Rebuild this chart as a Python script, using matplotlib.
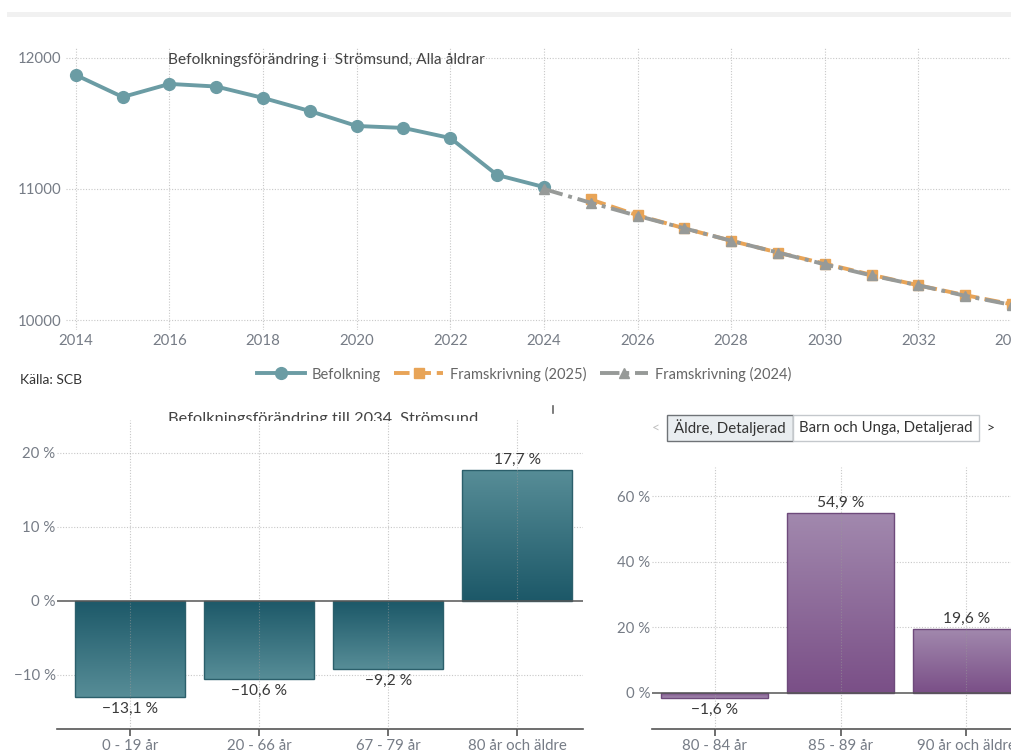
import matplotlib
matplotlib.use('Agg')
import matplotlib.pyplot as plt
import numpy as np
from matplotlib.colors import LinearSegmentedColormap
from matplotlib.lines import Line2D
from matplotlib.patches import Rectangle
from matplotlib.transforms import Bbox, TransformedBbox

plt.rcParams['font.family'] = ['Lato', 'DejaVu Sans']

# ---------------- data ----------------
years_hist = [2014, 2015, 2016, 2017, 2018, 2019, 2020, 2021, 2022, 2023, 2024]
pop_hist = [11870, 11702, 11802, 11782, 11695, 11595, 11481, 11466, 11389, 11107, 11015]

years_p25 = [2025, 2026, 2027, 2028, 2029, 2030, 2031, 2032, 2033, 2034]
proj_2025 = [10920, 10800, 10700, 10605, 10515, 10430, 10345, 10265, 10190, 10120]

years_p24 = [2024, 2025, 2026, 2027, 2028, 2029, 2030, 2031, 2032, 2033, 2034]
proj_2024 = [11000, 10895, 10795, 10700, 10605, 10515, 10425, 10340, 10265, 10185, 10115]

year_ticks = [2014, 2016, 2018, 2020, 2022, 2024, 2026, 2028, 2030, 2032, 2034]
pop_ticks = [10000, 11000, 12000]

age_groups = ['0 - 19 år', '20 - 66 år', '67 - 79 år', '80 år och äldre']
age_change = [-13.1, -10.6, -9.2, 17.7]
age_ticks = [-10, 0, 10, 20]

old_groups = ['80 - 84 år', '85 - 89 år', '90 år och äldre']
old_change = [-1.6, 54.9, 19.6]
old_ticks = [0, 20, 40, 60]

W, H = 1012, 752
fig = plt.figure(figsize=(W / 100, H / 100), dpi=100)
fig.patch.set_facecolor('white')


def fr(x0, y0, x1, y1):
    return [x0 / W, 1 - y1 / H, (x1 - x0) / W, (y1 - y0) / H]


def fmt_pct(v, dec=True):
    s = (f"{abs(v):.1f}" if dec else f"{abs(v):.0f}").replace('.', ',')
    return ('\u2212' if v < 0 else '') + s + ' %'


TICK_C = '#767c86'
TEXT_C = '#3a3a3a'
GRID_C = '#c8c8c8'

# top light band
fig.add_artist(Rectangle((7 / W, 1 - 17 / H), (W - 7) / W, 5 / H,
                         transform=fig.transFigure, color='#f1f1f1', lw=0))

# ---------------- top line chart ----------------
ax = fig.add_axes(fr(66, 48, 1012, 330))
ax.set_xlim(2013.79, 2033.91)
ax.set_ylim(9924, 12076)
for s in ax.spines.values():
    s.set_visible(False)
ax.set_xticks(year_ticks)
ax.set_xticklabels([str(y) for y in year_ticks])
ax.set_yticks(pop_ticks)
ax.set_yticklabels([str(v) for v in pop_ticks])
ax.tick_params(length=0, colors=TICK_C, labelsize=10.8)
ax.tick_params(axis='x', pad=3)
ax.tick_params(axis='y', pad=3)
ax.grid(True, color=GRID_C, linestyle=(0, (1, 1.5)), linewidth=0.8)
ax.set_axisbelow(True)

c_hist = '#6b9ca4'
c_p25 = '#e8a457'
c_p24 = '#979a98'
ax.plot(years_hist, pop_hist, color=c_hist, lw=2.8, marker='o', ms=8.5, zorder=5,
        solid_capstyle='round')
ax.plot(years_p25, proj_2025, color=c_p25, lw=2.8, ls=(0, (4, 1.5)), marker='s', ms=7,
        zorder=4)
ax.plot(years_p24, proj_2024, color=c_p24, lw=2.8, ls=(0, (5, 1.5, 1, 1.5)), marker='^',
        ms=7.5, zorder=6)
ax.text(168 / W, 1 - 60 / H, 'Befolkningsförändring i  Strömsund, Alla åldrar',
        transform=fig.transFigure, fontsize=11.2, color='#444444', va='center', ha='left')

handles = [
    Line2D([], [], color=c_hist, lw=2.8, marker='o', ms=8.5),
    Line2D([], [], color=c_p25, lw=2.8, ls=(0, (4, 1.5)), marker='s', ms=7),
    Line2D([], [], color=c_p24, lw=2.8, ls=(0, (5, 1.5, 1, 1.5)), marker='^', ms=7.5),
]
leg = fig.legend(handles, ['Befolkning', 'Framskrivning (2025)', 'Framskrivning (2024)'],
                 loc='center', bbox_to_anchor=(524 / W, 1 - 374 / H), ncol=3, frameon=False,
                 fontsize=10.5, handlelength=3.3, columnspacing=0.9, handletextpad=0.5)
for t in leg.get_texts():
    t.set_color('#666666')

fig.text(20 / W, 1 - 380 / H, 'Källa: SCB', fontsize=10, color='#333333', va='center')

# ---------------- gradient bar helper ----------------


def grad_bars(ax, vals, width, c_zero, c_far, edge):
    cmap = LinearSegmentedColormap.from_list('g', [c_zero, c_far])
    bars = ax.bar(range(len(vals)), vals, width=width, facecolor='none',
                  edgecolor=edge, linewidth=1.0, zorder=3)
    for b, v in zip(bars, vals):
        x0 = b.get_x()
        x1 = x0 + b.get_width()
        g = np.linspace(0, 1, 256).reshape(-1, 1)
        if v >= 0:
            ext = [x0, x1, 0, v]
            img = g
        else:
            ext = [x0, x1, v, 0]
            img = g[::-1]
        im = ax.imshow(img, extent=ext, origin='lower', aspect='auto', cmap=cmap,
                       vmin=0, vmax=1, zorder=2)
        im.set_clip_path(b)
    return bars


def style_bar_axes(ax, cats, ticks, xlim, ylim):
    ax.set_xlim(*xlim)
    ax.set_ylim(*ylim)
    for k in ['top', 'right', 'left']:
        ax.spines[k].set_visible(False)
    ax.spines['bottom'].set_color('#555555')
    ax.spines['bottom'].set_linewidth(1.2)
    ax.set_xticks(range(len(cats)))
    ax.set_xticklabels(cats)
    ax.set_yticks(ticks)
    ax.set_yticklabels([fmt_pct(t, dec=False) for t in ticks])
    ax.tick_params(axis='y', length=0, colors=TICK_C, labelsize=10.8, pad=1)
    ax.tick_params(axis='x', length=5, width=1.2, color='#555555', labelcolor=TICK_C,
                   labelsize=10.8, pad=2)
    for t in ticks:
        if t != 0:
            ax.axhline(t, color=GRID_C, ls=(0, (1, 1.5)), lw=0.8, zorder=1)
    for i in range(len(cats)):
        ax.axvline(i, color='#9a9a9a', ls=(0, (1, 1.5)), lw=0.8, alpha=0.55, zorder=4)
    ax.axhline(0, color='#555555', lw=1.1, zorder=5)


def value_labels(ax, vals):
    for i, v in enumerate(vals):
        if v >= 0:
            ax.annotate(fmt_pct(v), (i, v), xytext=(0, 2), textcoords='offset points',
                        ha='center', va='bottom', fontsize=11.2, color=TEXT_C, zorder=6)
        else:
            ax.annotate(fmt_pct(v), (i, v), xytext=(0, -3.5), textcoords='offset points',
                        ha='center', va='top', fontsize=11.2, color=TEXT_C, zorder=6)


# ---------------- bottom left ----------------
ax2 = fig.add_axes(fr(57, 420, 583, 729))
grad_bars(ax2, age_change, 0.85, '#1c5868', '#578d97', '#2b5f6b')
style_bar_axes(ax2, age_groups, age_ticks, (-0.566, 3.51), (-17.37, 24.46))
value_labels(ax2, age_change)

t = fig.text(168 / W, 1 - 423 / H, 'Befolkningsförändring till 2034, Strömsund',
             fontsize=11.8, color='#444444', ha='left', va='baseline')
t.set_clip_box(TransformedBbox(Bbox([[0, 1 - 420.5 / H], [1, 1]]), fig.transFigure))
t.set_clip_on(True)
fig.add_artist(Line2D([553 / W, 553 / W], [1 - 406 / H, 1 - 413 / H],
                      transform=fig.transFigure, color='#666666', lw=1.2))

# ---------------- bottom right ----------------
ax3 = fig.add_axes(fr(652, 467, 1019, 729))
grad_bars(ax3, old_change, 0.85, '#7a4f87', '#a289ae', '#6e4a7b')
style_bar_axes(ax3, old_groups, old_ticks, (-0.5, 2.42), (-10.98, 68.9))
value_labels(ax3, old_change)

# tabs
fig.add_artist(Rectangle((667 / W, 1 - 441 / H), (793 - 667) / W, 26 / H,
                         transform=fig.transFigure, facecolor='#e9edf0',
                         edgecolor='#6f7377', lw=1.0))
fig.add_artist(Rectangle((793 / W, 1 - 441 / H), (979 - 793) / W, 26 / H,
                         transform=fig.transFigure, facecolor='white',
                         edgecolor='#c4c8cc', lw=1.0))
fig.text(730 / W, 1 - 428 / H, 'Äldre, Detaljerad', fontsize=10.8, color='#333333',
         ha='center', va='center')
fig.text(886 / W, 1 - 428 / H, 'Barn och Unga, Detaljerad', fontsize=10.8, color='#333333',
         ha='center', va='center')
fig.text(656 / W, 1 - 428 / H, '<', fontsize=10, color='#c0c0c0', ha='center', va='center')
fig.text(991 / W, 1 - 428 / H, '>', fontsize=10, color='#333333', ha='center', va='center')

fig.savefig('out.png', dpi=100, facecolor='white')
